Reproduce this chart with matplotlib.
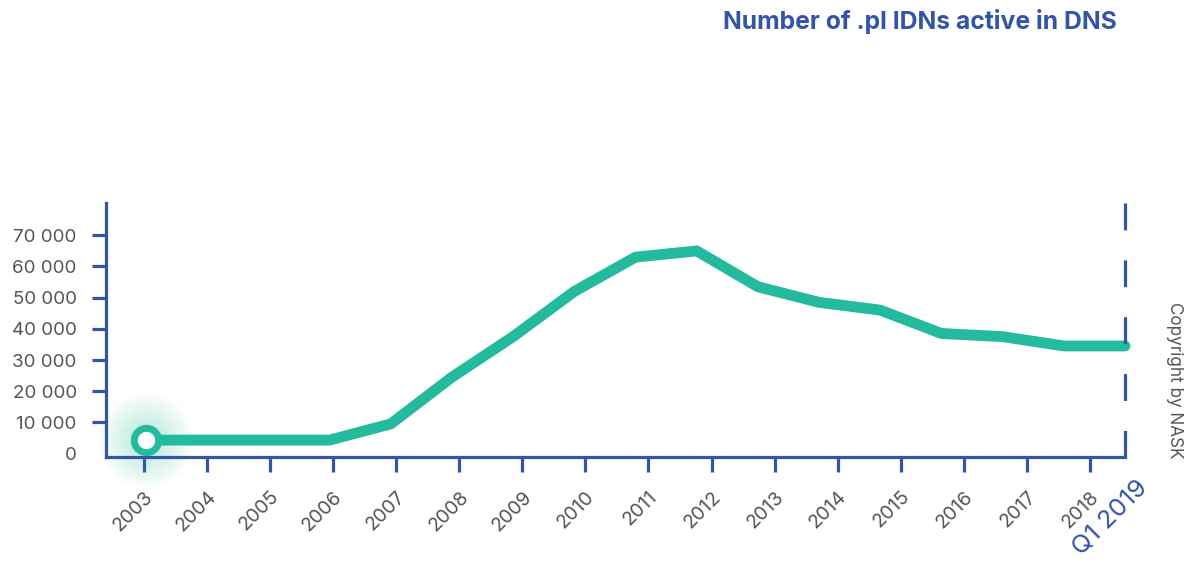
import matplotlib
matplotlib.use("Agg")
import matplotlib.pyplot as plt
import numpy as np

plt.rcParams['font.family'] = ['Inter', 'DejaVu Sans']

# ---- data ----
periods = ["2003", "2004", "2005", "2006", "2007", "2008", "2009", "2010", "2011",
           "2012", "2013", "2014", "2015", "2016", "2017", "2018", "Q1 2019"]
values = [4300, 4300, 4300, 4300, 9500, 24500, 37500, 52000, 63000,
          65000, 53500, 48500, 46000, 38500, 37500, 34500, 34500]
year_labels = ["2003", "2004", "2005", "2006", "2007", "2008", "2009", "2010",
               "2011", "2012", "2013", "2014", "2015", "2016", "2017", "2018"]
last_label = "Q1 2019"
y_ticks = [0, 10000, 20000, 30000, 40000, 50000, 60000, 70000]
y_ticklabels = ["0", "10 000", "20 000", "30 000", "40 000", "50 000", "60 000", "70 000"]
title = "Number of .pl IDNs active in DNS"
copyright_text = "Copyright by NASK"

GREEN = "#23BA9E"
BLUE = "#3355A6"
GREY = "#555555"

W, H = 1185, 564
fig = plt.figure(figsize=(W / 100, H / 100), dpi=100)
L, R, B, T = 106, 1125, 457, 203
ax = fig.add_axes([L / W, 1 - B / H, (R - L) / W, (B - T) / H])

x = np.arange(len(values))
n = len(values) - 1
ax.set_xlim(-0.654, n)
ax.set_ylim(-1120, 80370)

# soft glow around first point
for r in np.linspace(70, 8, 24):
    ax.scatter([x[0]], [values[0]], s=r ** 2, color=GREEN, alpha=0.011, lw=0, zorder=2,
               clip_on=False)

ax.plot(x, values, color=GREEN, lw=7.8, solid_capstyle='round', solid_joinstyle='round',
        zorder=3, clip_on=False)
ax.plot([x[0]], [values[0]], marker='o', ms=17.5, mew=5, mfc='white', mec=GREEN,
        zorder=4, clip_on=False)

# spines
for s in ['top', 'right']:
    ax.spines[s].set_visible(False)
for s in ['left', 'bottom']:
    ax.spines[s].set_color(BLUE)
    ax.spines[s].set_linewidth(2.3)
ax.spines['bottom'].set_capstyle('projecting')

# dashed right line
ax.plot([n, n], [80370, -1120], color=BLUE, lw=2.3, linestyle=(0, (8.4, 9.4)),
        clip_on=False, zorder=5)

# y ticks
ax.set_yticks(y_ticks)
ax.set_yticklabels(y_ticklabels, fontsize=13.5, color=GREY)
ax.tick_params(axis='y', length=10, width=2.3, color=BLUE, pad=11)
ax.yaxis.get_major_ticks()[0].tick1line.set_visible(False)

# x ticks (year axis uses slightly wider spacing than the line points)
step = 63.07 / 61.2
tick_pos = [-0.033 + i * step for i in range(len(year_labels))]
ax.set_xticks(tick_pos)
ax.set_xticklabels(year_labels, fontsize=14, color=GREY, rotation=45,
                   ha='right', va='top', rotation_mode='anchor')
ax.tick_params(axis='x', length=11, width=2.3, color=BLUE, pad=11)

ax.annotate(last_label, xy=(n, 0), xycoords=('data', 'axes fraction'),
            xytext=(8, -13.5), textcoords='offset points',
            fontsize=18.5, color=BLUE, rotation=45,
            ha='right', va='top', rotation_mode='anchor', annotation_clip=False)

fig.text(1117 / W, 1 - 22 / H, title, fontsize=17.8, fontweight='bold', color=BLUE,
         ha='right', va='center')
fig.text(1175 / W, 1 - 380 / H, copyright_text, fontsize=12.3, color=GREY,
         rotation=-90, ha='center', va='center')

fig.savefig("out.png", dpi=100)
